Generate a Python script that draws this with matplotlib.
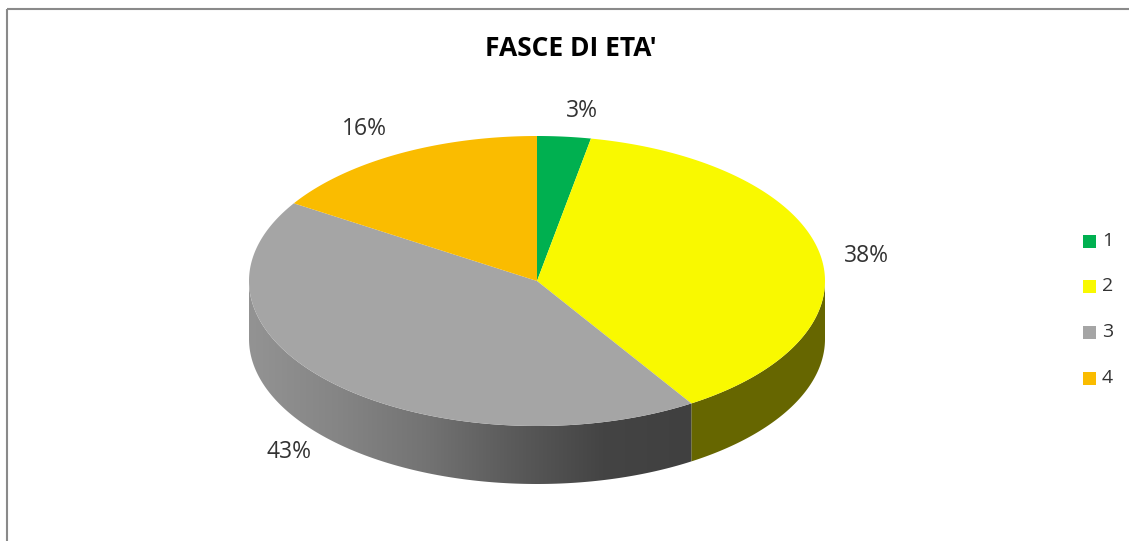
import matplotlib

matplotlib.use("Agg")
import matplotlib.pyplot as plt
import numpy as np
from matplotlib import font_manager
from matplotlib.colors import LinearSegmentedColormap
from matplotlib.patches import Polygon, Rectangle

# age bands and their share (%)
categories = ["1", "2", "3", "4"]
shares = [3, 38, 43, 16]
title = "FASCE DI ETA'"

top_colors = ["#00B050", "#F9F900", "#A5A5A5", "#FABC00"]
side_colors = ["#006030", "#666600", None, "#8A6800"]

# label anchor points in pixel space (x, y), one per slice
label_xy = [(582, 111), (866, 256), (289, 452), (364, 129)]

W, H = 1129, 541
CX, CY, RX, RY, DEPTH = 537, 281, 288, 145, 58


def pick_font(names, fallback="DejaVu Sans"):
    installed = {f.name for f in font_manager.fontManager.ttflist}
    for name in names:
        if name in installed:
            return name
    return fallback


def rim(theta, drop=0.0):
    """Point on the pie rim, theta measured clockwise from 12 o'clock."""
    return CX + RX * np.sin(theta), CY - RY * np.cos(theta) + drop


def arc(a, b, drop=0.0, n=200):
    t = np.linspace(a, b, n)
    x, y = rim(t, drop)
    return np.column_stack([x, y])


fig = plt.figure(figsize=(W / 100, H / 100), dpi=100)
ax = fig.add_axes([0, 0, 1, 1])
ax.set_xlim(0, W)
ax.set_ylim(H, 0)
ax.axis("off")

fracs = np.asarray(shares, dtype=float) / np.sum(shares)
edges = np.concatenate([[0.0], np.cumsum(fracs)]) * 2 * np.pi

# shading of the grey wall, light on the left and dark towards the yellow slice
gray_cmap = LinearSegmentedColormap.from_list(
    "side", ["#939393", "#858585", "#737373", "#5A5A5A", "#444444", "#404040"]
)

# side walls, only the front half (pi/2 .. 3pi/2) is visible
for i, (a, b) in enumerate(zip(edges[:-1], edges[1:])):
    lo, hi = max(a, np.pi / 2), min(b, 3 * np.pi / 2)
    if lo >= hi:
        continue
    pts = np.vstack([arc(lo, hi), arc(lo, hi, DEPTH)[::-1]])
    if side_colors[i] is None:
        poly = Polygon(pts, closed=True, facecolor="none", edgecolor="none")
        ax.add_patch(poly)
        grad = np.linspace(0, 1, 256).reshape(1, -1)
        xs = pts[:, 0]
        img = ax.imshow(
            grad,
            cmap=gray_cmap,
            aspect="auto",
            extent=(xs.min(), xs.max(), CY + RY + DEPTH + 2, CY - 5),
            zorder=2,
        )
        img.set_clip_path(poly)
    else:
        ax.add_patch(Polygon(pts, closed=True, facecolor=side_colors[i], edgecolor="none", zorder=2))

# top faces
for i, (a, b) in enumerate(zip(edges[:-1], edges[1:])):
    pts = np.vstack([[CX, CY], arc(a, b)])
    ax.add_patch(Polygon(pts, closed=True, facecolor=top_colors[i], edgecolor="none", zorder=3))

label_font = pick_font(["Open Sans", "Noto Sans"])
for share, (x, y) in zip(shares, label_xy):
    ax.text(x, y, f"{share}%", ha="center", va="center", fontsize=16.5,
            color="#333333", family=label_font, zorder=5)

ax.text(571, 49, title, ha="center", va="center", fontsize=19, fontweight="bold",
        color="#000000", family=label_font)

# legend
legend_y = [241, 286, 332, 378]
for cat, color, y in zip(categories, top_colors, legend_y):
    ax.add_patch(Rectangle((1083, y - 6.5), 13, 13, facecolor=color, edgecolor="none"))
    ax.text(1102, y, cat, ha="left", va="center", fontsize=14, color="#333333", family=label_font)

# chart frame
ax.plot([6.5, W], [8.5, 8.5], color="#8A8A8A", lw=1.5, solid_capstyle="butt")
ax.plot([6.5, 6.5], [8.5, H], color="#8A8A8A", lw=1.5, solid_capstyle="butt")

fig.savefig("out.png", dpi=100)
